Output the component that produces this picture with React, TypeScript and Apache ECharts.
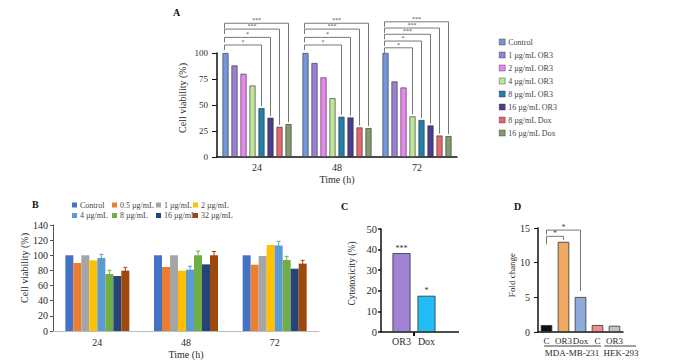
import React, { useEffect, useRef } from "react";
import * as echarts from "echarts";

const FONT = "'Liberation Serif', 'Times New Roman', serif";

// ---------- Panel A ----------
const timeCategories = ["24", "48", "72"];
const seriesNamesA = [
  "Control",
  "1 µg/mL OR3",
  "2 µg/mL OR3",
  "4 µg/mL OR3",
  "8 µg/mL OR3",
  "16 µg/mL OR3",
  "8 µg/mL Dox",
  "16 µg/mL Dox",
];
const controlA = [100, 100, 100];
const or3_1A = [88, 90.3, 72.6];
const or3_2A = [80, 76.5, 66.8];
const or3_4A = [68.7, 56.5, 39];
const or3_8A = [47, 38.7, 35.5];
const or3_16A = [37.7, 38, 30.3];
const dox_8A = [29, 28.4, 20.6];
const dox_16A = [31.6, 27.7, 20];
const valuesA = [controlA, or3_1A, or3_2A, or3_4A, or3_8A, or3_16A, dox_8A, dox_16A];
const colorsA = ["#7398da", "#9c80d6", "#ea86ee", "#bfe59a", "#2381a9", "#4c3c90", "#e8666f", "#7f9d6b"];

// significance brackets of panel A (from Control bar to target bar)
const sigCategoryA = [0, 0, 0, 0, 1, 1, 1, 1, 2, 2, 2, 2, 2];
const sigTargetA = [4, 5, 6, 7, 4, 5, 6, 7, 3, 4, 5, 6, 7];
const sigLevelA = [107.7, 115, 123, 128.6, 107.7, 115, 123, 128.6, 105, 111.5, 118, 124, 130];
const sigLabelA = ["*", "*", "***", "***", "*", "*", "***", "***", "*", "*", "***", "***", "***"];

// ---------- Panel B ----------
const doseNamesB = ["Control ", "0.5 µg/mL", "1 µg/mL", "2 µg/mL", "4 µg/mL", "8 µg/mL", "16 µg/mL", "32 µg/mL"];
const controlB = [100, 100, 100];
const dose05B = [89.8, 84.5, 87.6];
const dose1B = [100, 100, 99];
const dose2B = [93.3, 79.7, 113.6];
const dose4B = [96.4, 81, 113];
const dose8B = [75.3, 100, 93.8];
const dose16B = [72.6, 88, 82.3];
const dose32B = [79.7, 100, 89];
const valuesB = [controlB, dose05B, dose1B, dose2B, dose4B, dose8B, dose16B, dose32B];
const errDose4B = [4.8, 4.5, 5.5];
const errDose8B = [4.8, 5.5, 4.8];
const errDose32B = [4.4, 5, 4.4];
const errorSeriesB = [4, 5, 7];
const errorValuesB = [errDose4B, errDose8B, errDose32B];
const colorsB = ["#4472c4", "#ed7d31", "#a5a5a5", "#ffc000", "#5b9bd5", "#70ad47", "#264478", "#9e480e"];

// ---------- Panel C ----------
const treatmentsC = ["OR3", "Dox"];
const cytotoxicityC = [38.3, 17.6];
const starsC = ["***", "*"];
const colorsC = ["#a083d4", "#22bcf6"];

// ---------- Panel D ----------
// trailing spaces keep repeated labels distinct categories
const cellCategoriesD = ["C", "OR3", "Dox", "C ", "OR3 "];
const foldChangeD = [1.0, 13.0, 5.05, 1.0, 0.9];
const colorsD = ["#111111", "#f2aa62", "#8fabdc", "#f28c8c", "#c4c4c4"];
const sigFromD = [0, 0];
const sigToD = [1, 2];
const sigLevelD = [13.8, 14.7];
const sigLabelD = ["*", "*"];
const cellLinesD = ["MDA-MB-231", "HEK-293"];

const TXT = "#2a2a2a";
const txt = (size: number, extra: any = {}) => ({ fontFamily: FONT, fontSize: size, color: TXT, fontWeight: "normal", ...extra });

export default function App() {
  const ref = useRef<HTMLDivElement>(null);

  useEffect(() => {
    if (!ref.current) return;
    const chart = echarts.init(ref.current, undefined, { renderer: "svg" });

    const stepA = 9;
    const bracketDataA = sigCategoryA.map((c, i) => [c, 0, sigTargetA[i], sigLevelA[i], valuesA[sigTargetA[i]][c]]);
    const errorDataB: number[][] = [];
    errorSeriesB.forEach((s, k) => {
      errorValuesB[k].forEach((e, c) => {
        errorDataB.push([c, s, valuesB[s][c], e]);
      });
    });
    const bracketDataD = sigFromD.map((f, i) => [f, sigToD[i], sigLevelD[i], foldChangeD[sigToD[i]]]);

    const option: any = {
      animation: false,
      backgroundColor: "#fff",
      textStyle: { fontFamily: FONT },
      grid: [
        { left: 217, top: 53, width: 240, height: 104, containLabel: false, outerBoundsMode: "none" },
        { left: 53, top: 225, width: 266, height: 106, containLabel: false, outerBoundsMode: "none" },
        { left: 389, top: 229, width: 50, height: 103, containLabel: false, outerBoundsMode: "none" },
        { left: 538, top: 228, width: 85, height: 104, containLabel: false, outerBoundsMode: "none" },
      ],
      legend: [
        {
          data: seriesNamesA,
          orient: "vertical",
          left: 499,
          top: 38,
          itemWidth: 6,
          itemHeight: 6,
          itemGap: 5,
          padding: 0,
          icon: "rect",
          selectedMode: false,
          itemStyle: { borderWidth: 0.4 },
          textStyle: txt(8, { color: "#444", padding: [0, 0, 0, -2] }),
        },
        ...[[0, 4], [1, 5], [2, 6], [3, 7]].map((pair, k) => ({
          data: pair.map((i) => doseNamesB[i]),
          orient: "vertical",
          left: [72, 112, 156, 193][k],
          top: 201,
          itemWidth: 5,
          itemHeight: 5,
          itemGap: 2.5,
          padding: 0,
          icon: "rect",
          selectedMode: false,
          formatter: (n: string) => n.trim(),
          textStyle: txt(8, { color: "#444", padding: [0, 0, 0, -2] }),
        })),
      ],
      xAxis: [
        {
          type: "category",
          gridIndex: 0,
          data: timeCategories,
          axisLine: { lineStyle: { color: "#111", width: 1.5 } },
          axisTick: { alignWithLabel: true, length: 4, lineStyle: { color: "#111", width: 2 } },
          axisLabel: txt(10, { margin: 5 }),
          name: "Time (h)",
          nameLocation: "middle",
          nameGap: 17,
          nameTextStyle: txt(10),
        },
        {
          type: "category",
          gridIndex: 1,
          data: timeCategories,
          axisLine: { lineStyle: { color: "#bbb", width: 1 } },
          axisTick: { show: false },
          axisLabel: txt(10, { margin: 6 }),
          name: "Time (h)",
          nameLocation: "middle",
          nameGap: 18,
          nameTextStyle: txt(10),
        },
        {
          type: "category",
          gridIndex: 2,
          data: treatmentsC,
          axisLine: { show: false },
          axisTick: { show: false },
          axisLabel: txt(10, { margin: 4, interval: 0 }),
        },
        {
          type: "category",
          gridIndex: 3,
          data: cellCategoriesD,
          axisLine: { lineStyle: { color: "#111", width: 1.5 } },
          axisTick: { show: false },
          axisLabel: txt(9, { margin: 4.5, interval: 0, formatter: (v: string) => v.trim() }),
        },
      ],
      yAxis: [
        {
          type: "value",
          gridIndex: 0,
          min: 0,
          max: 100,
          interval: 25,
          splitLine: { show: false },
          axisLine: { show: true, lineStyle: { color: "#111", width: 1.5 } },
          axisTick: { show: true, length: 5, lineStyle: { color: "#111", width: 1 } },
          axisLabel: txt(9, { margin: 9 }),
          name: "Cell viability (%)",
          nameLocation: "middle",
          nameGap: 30,
          nameTextStyle: txt(10, { padding: [0, 0, 0, 14] }),
        },
        {
          type: "value",
          gridIndex: 1,
          min: 0,
          max: 140,
          interval: 20,
          splitLine: { show: false },
          axisLine: { show: true, lineStyle: { color: "#555", width: 1 } },
          axisTick: { show: true, length: 3, lineStyle: { color: "#555", width: 1 } },
          axisLabel: txt(10, { margin: 5 }),
          name: "Cell viability (%)",
          nameLocation: "middle",
          nameGap: 20,
          nameTextStyle: txt(10, { padding: [0, 0, 0, 20] }),
        },
        {
          type: "value",
          gridIndex: 2,
          min: 0,
          max: 50,
          interval: 10,
          offset: 8,
          splitLine: { show: false },
          axisLine: { show: true, lineStyle: { color: "#111", width: 1.5 } },
          axisTick: { show: true, length: 3, lineStyle: { color: "#111", width: 1.5 } },
          axisLabel: txt(10.5, { margin: 4 }),
          name: "Cytotoxicity (%)",
          nameLocation: "middle",
          nameGap: 24,
          nameTextStyle: txt(9.5, { padding: [0, 0, 0, 14] }),
        },
        {
          type: "value",
          gridIndex: 3,
          min: 0,
          max: 15,
          interval: 5,
          splitLine: { show: false },
          axisLine: { show: true, lineStyle: { color: "#111", width: 1.5 } },
          axisTick: { show: true, length: 4, lineStyle: { color: "#111", width: 1 } },
          axisLabel: txt(10, { margin: 8 }),
          name: "Fold change",
          nameLocation: "middle",
          nameGap: 16,
          nameTextStyle: txt(9, { padding: [0, 0, 0, 10] }),
        },
      ],
      series: [
        ...valuesA.map((vals, i) => ({
          type: "bar",
          name: seriesNamesA[i],
          xAxisIndex: 0,
          yAxisIndex: 0,
          data: vals,
          barWidth: 6,
          barGap: "50%",
          itemStyle: { color: colorsA[i], borderColor: "#2a2a2a", borderWidth: 0.6 },
        })),
        ...valuesB.map((vals, i) => ({
          type: "bar",
          name: doseNamesB[i],
          xAxisIndex: 1,
          yAxisIndex: 1,
          data: vals,
          barWidth: 8,
          barGap: "0%",
          itemStyle: { color: colorsB[i] },
        })),
        {
          type: "bar",
          name: "cytotoxicity",
          xAxisIndex: 2,
          yAxisIndex: 2,
          barWidth: 18,
          data: cytotoxicityC.map((v, i) => ({ value: v, itemStyle: { color: colorsC[i] } })),
          itemStyle: { borderColor: "#333", borderWidth: 0.8 },
          label: {
            show: true,
            position: "top",
            distance: 1,
            formatter: (p: any) => starsC[p.dataIndex],
            fontFamily: FONT,
            fontSize: 8,
            color: "#333",
          },
        },
        {
          type: "bar",
          name: "fold change",
          xAxisIndex: 3,
          yAxisIndex: 3,
          barWidth: 11.5,
          data: foldChangeD.map((v, i) => ({ value: v, itemStyle: { color: colorsD[i] } })),
          itemStyle: { borderColor: "#333", borderWidth: 0.8 },
        },
        {
          type: "custom",
          name: "bracketsA",
          xAxisIndex: 0,
          yAxisIndex: 0,
          clip: false,
          silent: true,
          z: 10,
          encode: { x: 0, y: 3 },
          data: bracketDataA,
          renderItem: (params: any, api: any) => {
            const cat = api.value(0);
            const from = api.value(1);
            const to = api.value(2);
            const level = api.value(3);
            const tv = api.value(4);
            const cx = api.coord([cat, 0])[0];
            const x1 = cx + (from - 3.5) * stepA - 1;
            const x2 = cx + (to - 3.5) * stepA;
            const y = api.coord([cat, level])[1];
            const yT = api.coord([cat, tv])[1] - 2;
            return {
              type: "group",
              children: [
                {
                  type: "polyline",
                  shape: { points: [[x1, y + 5], [x1, y], [x2, y], [x2, yT]] },
                  style: { stroke: "#555", lineWidth: 0.8, fill: "none" },
                },
                {
                  type: "text",
                  style: {
                    text: sigLabelA[params.dataIndex],
                    x: (x1 + x2) / 2,
                    y: y - 0.5,
                    align: "center",
                    verticalAlign: "bottom",
                    fontFamily: FONT,
                    fontSize: 6,
                    lineHeight: 5,
                    fill: "#444",
                  },
                },
              ],
            };
          },
        },
        {
          type: "custom",
          name: "errorsB",
          xAxisIndex: 1,
          yAxisIndex: 1,
          clip: false,
          silent: true,
          z: 10,
          encode: { x: 0, y: 2 },
          data: errorDataB,
          renderItem: (params: any, api: any) => {
            const cat = api.value(0);
            const s = api.value(1);
            const v = api.value(2);
            const e = api.value(3);
            const cx = api.coord([cat, 0])[0] + (s - 3.5) * 8;
            const yTop = api.coord([cat, v + e])[1];
            const yBot = api.coord([cat, v - e])[1];
            const col = colorsB[s];
            return {
              type: "group",
              children: [
                { type: "line", shape: { x1: cx, y1: yTop, x2: cx, y2: yBot }, style: { stroke: col, lineWidth: 1 } },
                { type: "line", shape: { x1: cx - 2, y1: yTop, x2: cx + 2, y2: yTop }, style: { stroke: col, lineWidth: 1 } },
                { type: "line", shape: { x1: cx - 2, y1: yBot, x2: cx + 2, y2: yBot }, style: { stroke: col, lineWidth: 1 } },
              ],
            };
          },
        },
        {
          type: "custom",
          name: "bracketsD",
          xAxisIndex: 3,
          yAxisIndex: 3,
          clip: false,
          silent: true,
          z: 10,
          encode: { x: 0, y: 2 },
          data: bracketDataD,
          renderItem: (params: any, api: any) => {
            const from = api.value(0);
            const to = api.value(1);
            const level = api.value(2);
            const tv = api.value(3);
            const x1 = api.coord([from, 0])[0];
            const x2 = api.coord([to, 0])[0];
            const y = api.coord([from, level])[1];
            const yT = api.coord([to, tv])[1] - (params.dataIndex === 0 ? 2 : 6);
            const yL = y + (params.dataIndex === 0 ? 8 : 4.5);
            return {
              type: "group",
              children: [
                {
                  type: "polyline",
                  shape: { points: [[x1, yL], [x1, y], [x2, y], [x2, yT]] },
                  style: { stroke: "#666", lineWidth: 0.9, fill: "none" },
                },
                {
                  type: "text",
                  style: {
                    text: sigLabelD[params.dataIndex],
                    x: (x1 + x2) / 2,
                    y: y,
                    align: "center",
                    verticalAlign: "bottom",
                    fontFamily: FONT,
                    fontSize: 8,
                    lineHeight: 6,
                    fill: "#444",
                  },
                },
              ],
            };
          },
        },
      ],
      graphic: [
        { type: "text", left: 173, top: 7, style: { text: "A", font: `bold 10px ${FONT}`, fill: "#111" } },
        { type: "text", left: 32, top: 199, style: { text: "B", font: `bold 10px ${FONT}`, fill: "#111" } },
        { type: "text", left: 341, top: 201, style: { text: "C", font: `bold 10px ${FONT}`, fill: "#111" } },
        { type: "text", left: 514, top: 201, style: { text: "D", font: `bold 10px ${FONT}`, fill: "#111" } },
        // panel C x-axis baseline and its middle tick
        { type: "line", shape: { x1: 381, y1: 332, x2: 459, y2: 332 }, style: { stroke: "#111", lineWidth: 1.5 } },
        { type: "line", shape: { x1: 414, y1: 332, x2: 414, y2: 336 }, style: { stroke: "#111", lineWidth: 2 } },
        // panel D cell-line group labels
        { type: "line", shape: { x1: 544, y1: 346, x2: 601, y2: 346 }, style: { stroke: "#111", lineWidth: 0.8 } },
        { type: "line", shape: { x1: 604, y1: 346, x2: 636, y2: 346 }, style: { stroke: "#111", lineWidth: 0.8 } },
        {
          type: "text",
          x: 572,
          y: 353,
          style: { text: cellLinesD[0], align: "center", verticalAlign: "middle", font: `9px ${FONT}`, fill: TXT },
        },
        {
          type: "text",
          x: 621,
          y: 353,
          style: { text: cellLinesD[1], align: "center", verticalAlign: "middle", font: `9px ${FONT}`, fill: TXT },
        },
      ],
    };

    chart.setOption(option);
    return () => chart.dispose();
  }, []);

  return <div ref={ref} style={{ position: "absolute", left: 0, top: 0, width: 700, height: 364 }} />;
}
